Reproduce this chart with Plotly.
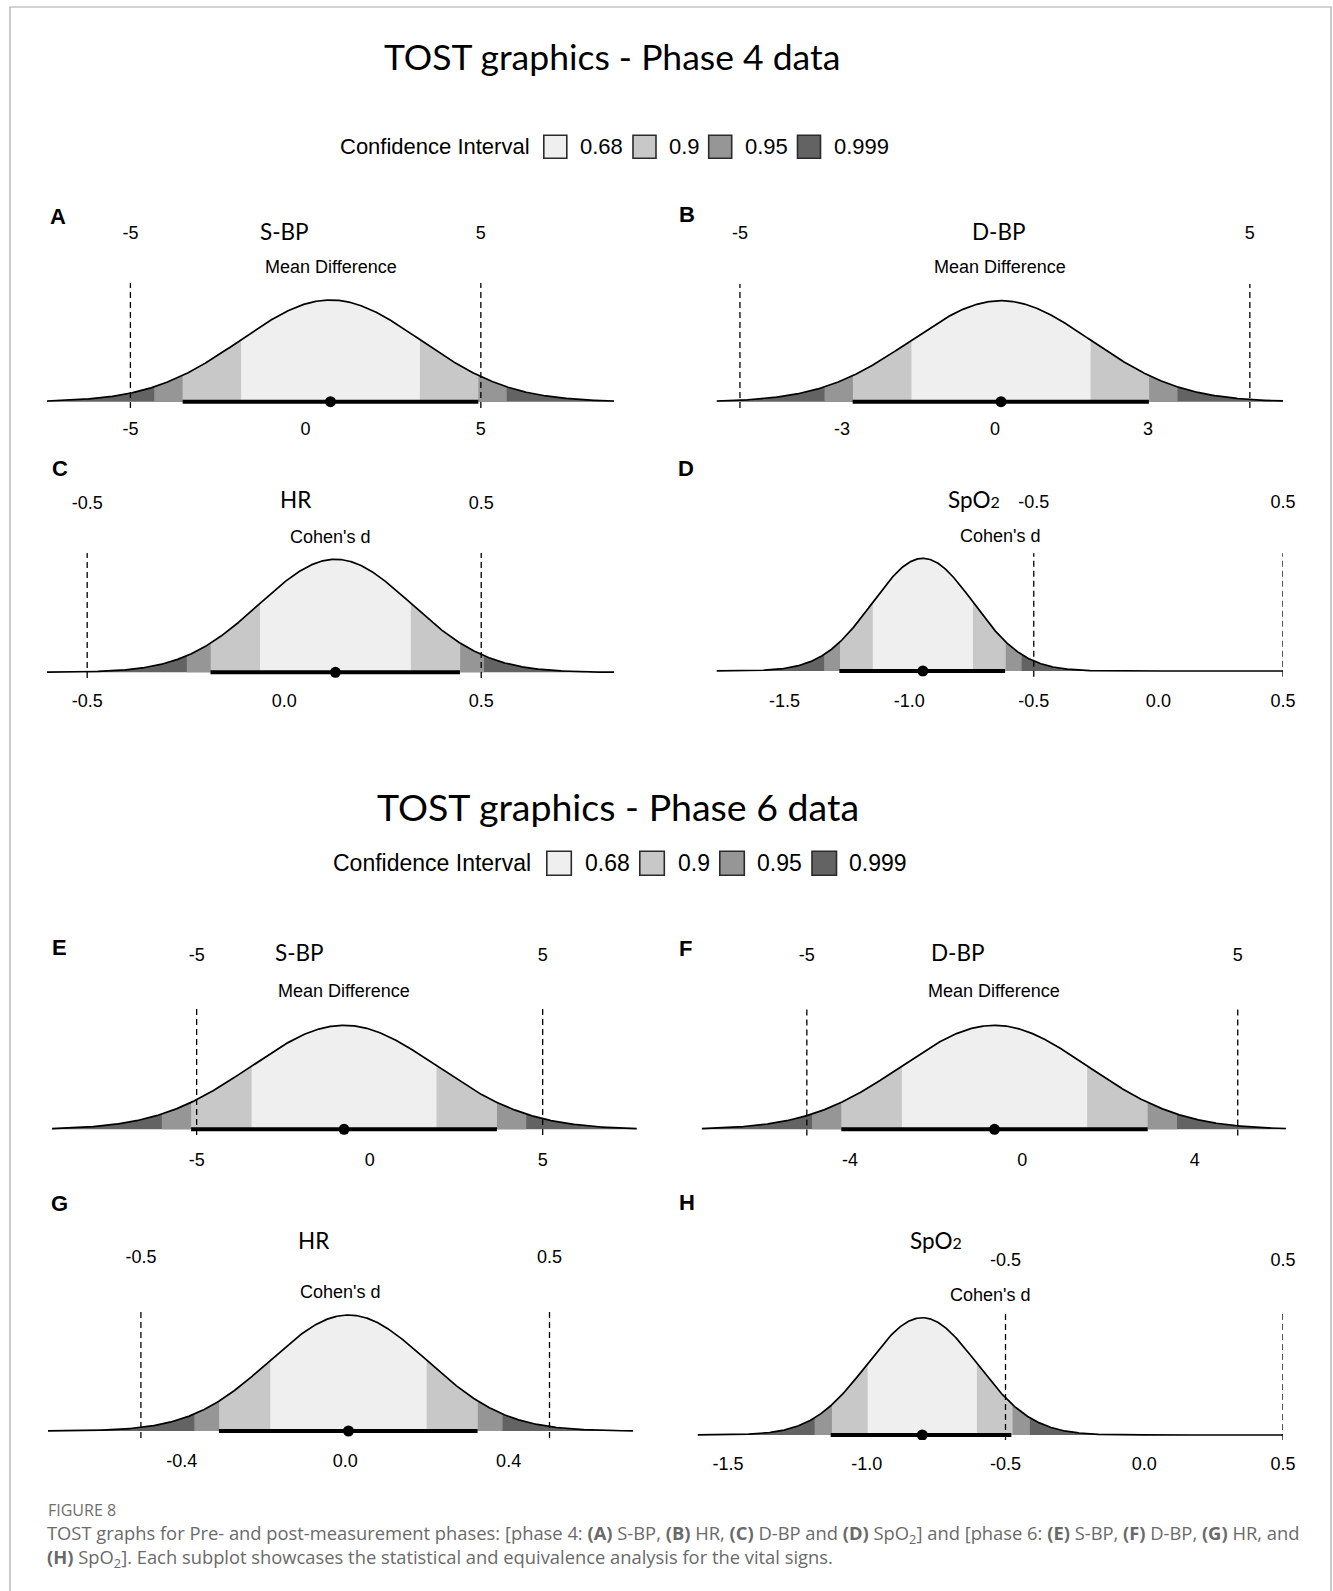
import math
from statistics import NormalDist
import numpy as np
import plotly.graph_objects as go

W, H = 1333, 1591

# ---------------- data ----------------
phase_titles = ["TOST graphics - Phase 4 data", "TOST graphics - Phase 6 data"]
panel_letters = ["A", "B", "C", "D", "E", "F", "G", "H"]
panel_titles = ["S-BP", "D-BP", "HR", "SpO2", "S-BP", "D-BP", "HR", "SpO2"]
effect_labels = ["Mean Difference", "Mean Difference", "Cohen's d", "Cohen's d",
                 "Mean Difference", "Mean Difference", "Cohen's d", "Cohen's d"]
point_estimates = [0.71, 0.12, 0.13, -0.945, -0.74, -0.645, 0.008, -0.80]
ci90_lower = [-3.51, -2.79, -0.187, -1.28, -5.16, -4.20, -0.309, -1.130]
ci90_upper = [4.93, 3.02, 0.446, -0.615, 3.68, 2.91, 0.324, -0.479]
eq_lower = [-5, -5, -0.5, -0.5, -5, -5, -0.5, -0.5]
eq_upper = [5, 5, 0.5, 0.5, 5, 5, 0.5, 0.5]
eq_labels = [["-5", "5"], ["-5", "5"], ["-0.5", "0.5"], ["-0.5", "0.5"],
             ["-5", "5"], ["-5", "5"], ["-0.5", "0.5"], ["-0.5", "0.5"]]
x_ranges = [[-7.38, 8.80], [-5.46, 5.65], [-0.602, 0.837], [-1.773, 0.5],
            [-9.18, 7.72], [-7.44, 6.12], [-0.7276, 0.7051], [-1.61, 0.5]]
tick_values = [[-5, 0, 5], [-3, 0, 3], [-0.5, 0, 0.5], [-1.5, -1, -0.5, 0, 0.5],
               [-5, 0, 5], [-4, 0, 4], [-0.4, 0, 0.4], [-1.5, -1, -0.5, 0, 0.5]]
tick_labels = [["-5", "0", "5"], ["-3", "0", "3"], ["-0.5", "0.0", "0.5"],
               ["-1.5", "-1.0", "-0.5", "0.0", "0.5"],
               ["-5", "0", "5"], ["-4", "0", "4"], ["-0.4", "0.0", "0.4"],
               ["-1.5", "-1.0", "-0.5", "0.0", "0.5"]]
ci_levels = [0.68, 0.9, 0.95, 0.999]
legend_title = "Confidence Interval"

caption_head = "FIGURE 8"
caption_lines = [
    "TOST graphs for Pre- and post-measurement phases: [phase 4: <b>(A)</b> S-BP, <b>(B)</b> HR, "
    "<b>(C)</b> D-BP and <b>(D)</b> SpO<sub>2</sub>] and [phase 6: <b>(E)</b> S-BP, <b>(F)</b> D-BP, "
    "<b>(G)</b> HR, and",
    "<b>(H)</b> SpO<sub>2</sub>]. Each subplot showcases the statistical and equivalence analysis for the vital signs.",
]

# ---------------- style / geometry (pixels) ----------------
ci_colors = {0.68: "#efefef", 0.9: "#c8c8c8", 0.95: "#969696", 0.999: "#636363"}
px_left = [47, 716.5, 47, 716.5, 52, 701.7, 47.9, 697.5]
px_right = [614, 1283, 614, 1283, 636.8, 1286, 633.3, 1283]
py_top = [283, 284, 553, 553.3, 1007.3, 1007.3, 1308, 1312.7]
py_base = [401.7, 401.7, 672.3, 671, 1129.3, 1129.3, 1431, 1435]
py_bottom = [408, 408, 678, 676.7, 1135, 1135.5, 1438, 1440]
py_peak = [300, 300.7, 559.3, 558.3, 1025.3, 1025.3, 1315, 1317.7]
py_ticklab = [428, 428.3, 700, 699.3, 1159, 1158.3, 1460, 1463.3]
py_toplab = [233, 233, 503, 501.7, 955, 955, 1257, 1260]
letter_pos = [(58, 216), (687, 214), (60, 468), (686, 468), (60, 947), (685, 948), (60, 1203), (687, 1202)]
title_pos = [(284, 232), (999, 232), (295, 500), (974, 500), (299, 952), (957.5, 952), (313, 1240), (936, 1240)]
effect_pos = [(331, 267), (1000, 267), (330, 537), (1000, 536), (344, 991), (993.5, 991), (340, 1292), (990, 1295)]

ARIAL = "Liberation Sans, Arial, sans-serif"
CALIBRI = "Lato, Open Sans, sans-serif"


def fx(p):
    return p / W


def fy(p):
    return 1 - p / H


fig = go.Figure()
nd = NormalDist()
z90 = nd.inv_cdf(0.95)
shapes = []
annotations = []
axes = {}

for i in range(8):
    k = i + 1
    xa = "x" if k == 1 else f"x{k}"
    ya = "y" if k == 1 else f"y{k}"
    kt = k + 8
    xt = f"x{kt}"
    m = point_estimates[i]
    se = (ci90_upper[i] - ci90_lower[i]) / (2 * z90)
    r0, r1 = x_ranges[i]

    def pdf(x, m=m, se=se):
        return np.exp(-0.5 * ((x - m) / se) ** 2) / (se * math.sqrt(2 * math.pi))

    for lvl in reversed(ci_levels):
        z = nd.inv_cdf(0.5 + lvl / 2)
        lo = max(m - z * se, r0)
        hi = min(m + z * se, r1)
        xs = np.linspace(lo, hi, 300)
        fig.add_trace(go.Scatter(x=xs, y=pdf(xs), mode="lines", line=dict(width=0),
                                 fill="tozeroy", fillcolor=ci_colors[lvl],
                                 xaxis=xa, yaxis=ya, hoverinfo="skip", showlegend=False))
    xs = np.linspace(r0, r1, 900)
    fig.add_trace(go.Scatter(x=xs, y=pdf(xs), mode="lines", line=dict(color="black", width=1.7),
                             xaxis=xa, yaxis=ya, hoverinfo="skip", showlegend=False))
    fig.add_trace(go.Scatter(x=[ci90_lower[i], ci90_upper[i]], y=[0, 0], mode="lines",
                             line=dict(color="black", width=4),
                             xaxis=xa, yaxis=ya, hoverinfo="skip", showlegend=False))
    fig.add_trace(go.Scatter(x=[m], y=[0], mode="markers", marker=dict(color="black", size=11),
                             xaxis=xa, yaxis=ya, hoverinfo="skip", showlegend=False))
    fig.add_trace(go.Scatter(x=[eq_lower[i], eq_upper[i]], y=[0, 0], mode="markers",
                             marker=dict(opacity=0), xaxis=xt, yaxis=ya,
                             hoverinfo="skip", showlegend=False))

    for b in (eq_lower[i], eq_upper[i]):
        shapes.append(dict(type="line", xref=xa, yref=f"{ya} domain", x0=b, x1=b, y0=0, y1=1,
                           line=dict(color="black", width=1.3, dash="6px,4px"), layer="above"))

    peak = pdf(np.array([m]))[0]
    unit = (py_base[i] - py_peak[i]) / peak  # px per density unit
    ymin = -(py_bottom[i] - py_base[i]) / unit
    ymax = (py_base[i] - py_top[i]) / unit
    suffix = "" if k == 1 else str(k)
    axes[f"xaxis{suffix}"] = dict(
        domain=[fx(px_left[i]), fx(px_right[i])], range=[r0, r1], anchor=ya,
        tickmode="array", tickvals=tick_values[i], ticktext=tick_labels[i],
        ticks="", showline=False, showgrid=False, zeroline=False, automargin=False,
        tickfont=dict(family=ARIAL, size=18, color="black"),
        ticklabelstandoff=max(0, int(round(py_ticklab[i] - py_bottom[i] - 12))),
    )
    axes[f"yaxis{suffix}"] = dict(domain=[fy(py_bottom[i]), fy(py_top[i])], range=[ymin, ymax],
                                  visible=False, anchor=xa, automargin=False)
    axes[f"xaxis{kt}"] = dict(
        overlaying=xa, side="top", anchor="free", position=fy(py_toplab[i] + 10),
        range=[r0, r1], tickmode="array", tickvals=[eq_lower[i], eq_upper[i]],
        ticktext=eq_labels[i], ticks="", showline=False, showgrid=False, zeroline=False,
        automargin=False, tickfont=dict(family=ARIAL, size=18, color="black"),
    )

    lx, ly = letter_pos[i]
    annotations.append(dict(x=fx(lx), y=fy(ly), xref="paper", yref="paper", text=f"<b>{panel_letters[i]}</b>",
                            showarrow=False, xanchor="center", yanchor="middle",
                            font=dict(family=ARIAL, size=22, color="black")))
    tx, ty = title_pos[i]
    ttl = panel_titles[i]
    if ttl == "SpO2":
        ttl = "SpO<span style='font-size:16px'>2</span>"
    annotations.append(dict(x=fx(tx), y=fy(ty), xref="paper", yref="paper", text=ttl,
                            showarrow=False, xanchor="center", yanchor="middle",
                            font=dict(family=CALIBRI, size=22.5, color="black")))
    ex, ey = effect_pos[i]
    annotations.append(dict(x=fx(ex), y=fy(ey), xref="paper", yref="paper", text=effect_labels[i],
                            showarrow=False, xanchor="center", yanchor="middle",
                            font=dict(family=ARIAL, size=18, color="black")))

# phase titles
for (tx, ty, sz), t in zip([(612, 56, 35.5), (618, 806, 37.5)], phase_titles):
    annotations.append(dict(x=fx(tx), y=fy(ty), xref="paper", yref="paper", text=t, showarrow=False,
                            xanchor="center", yanchor="middle", font=dict(family=CALIBRI, size=sz, color="black")))

# manual legends
legend_geo = [
    dict(title_x=531.5, cy=146.7, box_x=[543.8, 633, 708.7, 797.5], lab_x=[578, 666.6, 743, 832],
         bw=23, bh=23, fs=22),
    dict(title_x=533.4, cy=863.3, box_x=[546.8, 639.8, 719.8, 812], lab_x=[583, 675.8, 755.4, 847],
         bw=24.5, bh=24, fs=23),
]
for g in legend_geo:
    annotations.append(dict(x=fx(g["title_x"]), y=fy(g["cy"]), xref="paper", yref="paper", text=legend_title,
                            showarrow=False, xanchor="right", yanchor="middle",
                            font=dict(family=ARIAL, size=g["fs"], color="black")))
    for lvl, bx, lx in zip(ci_levels, g["box_x"], g["lab_x"]):
        shapes.append(dict(type="rect", xref="paper", yref="paper",
                           x0=fx(bx), x1=fx(bx + g["bw"]), y0=fy(g["cy"] + g["bh"] / 2), y1=fy(g["cy"] - g["bh"] / 2),
                           fillcolor=ci_colors[lvl], line=dict(color="#2a2a2a", width=1.6)))
        annotations.append(dict(x=fx(lx), y=fy(g["cy"]), xref="paper", yref="paper", text=str(lvl),
                                showarrow=False, xanchor="left", yanchor="middle",
                                font=dict(family=ARIAL, size=g["fs"], color="black")))

# frame
shapes.append(dict(type="rect", xref="paper", yref="paper", x0=fx(10), x1=fx(1331), y0=-0.02, y1=fy(7),
                   line=dict(color="#a8a8a8", width=1.2), fillcolor="rgba(0,0,0,0)"))

# caption
annotations.append(dict(x=fx(46), y=fy(1510), xref="paper", yref="paper", text=caption_head, showarrow=False,
                        xanchor="left", yanchor="middle", font=dict(family="Open Sans, sans-serif", size=16, color="#6e6e6e")))
for cy, line in zip([1534, 1558], caption_lines):
    annotations.append(dict(x=fx(45), y=fy(cy), xref="paper", yref="paper", text=line, showarrow=False,
                            xanchor="left", yanchor="middle", font=dict(family="Open Sans, sans-serif", size=18.35, color="#6a6a6a")))

fig.update_layout(width=W, height=H, autosize=False,
                  margin=dict(l=0, r=0, t=0, b=0, pad=0, autoexpand=False), paper_bgcolor="white",
                  plot_bgcolor="rgba(0,0,0,0)", showlegend=False, shapes=shapes, annotations=annotations, **axes)

post = (
    "document.documentElement.style.overflow='hidden';"
    "document.body.style.overflow='hidden';"
    "document.body.style.margin='0';"
)
fig.write_html("out.html", config={"displayModeBar": False, "responsive": False}, post_script=post)
